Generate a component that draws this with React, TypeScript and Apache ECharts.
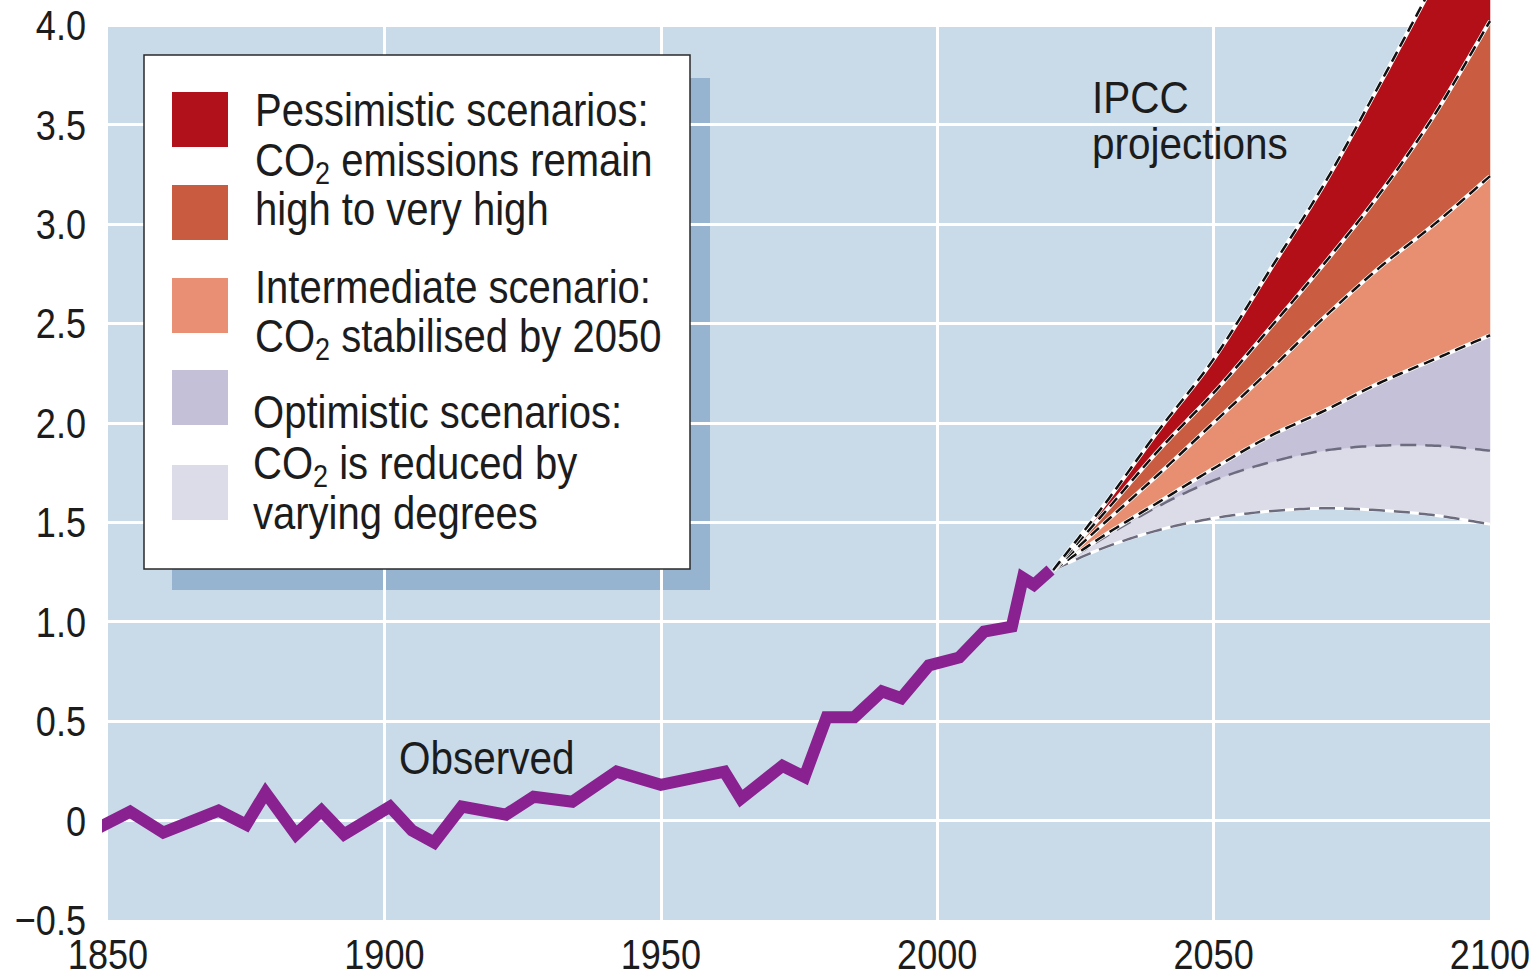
import React, { useEffect, useRef } from 'react';
import * as echarts from 'echarts';

// ---------- data ----------
const xTickValues = [1850, 1900, 1950, 2000, 2050, 2100];
const yTickValues = [-0.5, 0, 0.5, 1, 1.5, 2, 2.5, 3, 3.5, 4];

const observedYears = [
  1848, 1854, 1860, 1870, 1875, 1878.5, 1884, 1888.6, 1892.7, 1901, 1905, 1909,
  1914, 1922, 1927, 1934, 1942, 1950, 1961.5, 1964.5, 1972, 1976, 1980, 1985,
  1990, 1993.5, 1998.5, 2004, 2008.5, 2013.5, 2015.5, 2017.5, 2020.5,
];
const observedTemps = [
  -0.04, 0.045, -0.06, 0.05, -0.02, 0.14, -0.07, 0.05, -0.07, 0.07, -0.05, -0.11,
  0.07, 0.03, 0.12, 0.095, 0.246, 0.18, 0.246, 0.11, 0.275, 0.22, 0.52, 0.52,
  0.65, 0.615, 0.78, 0.82, 0.95, 0.975, 1.22, 1.185, 1.26,
];

const projectionYears = [2021, 2030, 2040, 2050, 2060, 2070, 2080, 2090, 2100];
// scenario band boundaries, lowest to highest
const optimisticLow = [1.26, 1.37, 1.46, 1.52, 1.555, 1.57, 1.56, 1.535, 1.49];
const optimisticMid = [1.26, 1.42, 1.58, 1.71, 1.8, 1.86, 1.885, 1.885, 1.86];
const optimisticHigh = [1.26, 1.43, 1.6, 1.77, 1.93, 2.06, 2.2, 2.32, 2.44];
const intermediateHigh = [1.26, 1.49, 1.74, 2.0, 2.26, 2.53, 2.78, 3.0, 3.24];
const pessimisticMid = [1.26, 1.54, 1.86, 2.15, 2.47, 2.8, 3.15, 3.55, 4.02];
const pessimisticHigh = [1.26, 1.58, 1.96, 2.32, 2.76, 3.2, 3.7, 4.22, 4.74];

const bandColors = ['#dcdbe8', '#c4c1d9', '#e88f71', '#c95c41', '#b20f18'];
const legendColors = ['#b0111a', '#c95b40', '#e98f73', '#c3c0d8', '#dcdbe8'];

const FONT = "'Liberation Sans', Arial, sans-serif";
const INK = '#1c1c1c';

const boundaries = [
  optimisticLow,
  optimisticMid,
  optimisticHigh,
  intermediateHigh,
  pessimisticMid,
  pessimisticHigh,
];

// Catmull-Rom spline through pixel points (drawing only)
function spline(pts: number[][], steps = 16): number[][] {
  const out: number[][] = [];
  const n = pts.length;
  for (let i = 0; i < n - 1; i++) {
    const p0 = pts[Math.max(i - 1, 0)];
    const p1 = pts[i];
    const p2 = pts[i + 1];
    const p3 = pts[Math.min(i + 2, n - 1)];
    for (let s = 0; s < steps; s++) {
      const t = s / steps;
      const t2 = t * t;
      const t3 = t2 * t;
      const c = (a: number, b: number, cc: number, d: number) =>
        0.5 * (2 * b + (-a + cc) * t + (2 * a - 5 * b + 4 * cc - d) * t2 + (-a + 3 * b - 3 * cc + d) * t3);
      out.push([c(p0[0], p1[0], p2[0], p3[0]), c(p0[1], p1[1], p2[1], p3[1])]);
    }
  }
  out.push(pts[n - 1]);
  return out;
}

export default function App() {
  const ref = useRef<HTMLDivElement>(null);

  useEffect(() => {
    if (!ref.current) return;
    const chart = echarts.init(ref.current, null, { renderer: 'svg' });

    const coordsOf = (api: any, vals: number[]) =>
      projectionYears.map((yr, i) => api.coord([yr, vals[i]]));

    const startItem = [projectionYears[0], optimisticLow[0]];

    const series: any[] = [
      {
        type: 'custom',
        name: 'bands',
        coordinateSystem: 'cartesian2d',
        data: bandColors.map(() => startItem),
        z: 3,
        silent: true,
        clip: false,
        renderItem: (params: any, api: any) => {
          const k = params.dataIndex;
          const lo = spline(coordsOf(api, boundaries[k]));
          const up = spline(coordsOf(api, boundaries[k + 1]));
          const points = up.concat(lo.slice().reverse());
          return {
            type: 'polygon',
            shape: { points },
            style: { fill: bandColors[k], stroke: bandColors[k], lineWidth: 0.5 },
          };
        },
      },
      {
        type: 'custom',
        name: 'boundaries',
        coordinateSystem: 'cartesian2d',
        data: boundaries.map(() => startItem),
        z: 4,
        silent: true,
        clip: false,
        renderItem: (params: any, api: any) => {
          const k = params.dataIndex;
          const pts = spline(coordsOf(api, boundaries[k]));
          const grey = k <= 1;
          const children: any[] = [];
          if (k !== 1) {
            children.push({
              type: 'polyline',
              shape: { points: pts },
              style: { stroke: '#ffffff', lineWidth: grey ? 3 : 4, fill: null },
            });
          }
          children.push({
            type: 'polyline',
            shape: { points: pts },
            style: {
              stroke: grey ? '#6c6c7e' : '#111111',
              lineWidth: 2.5,
              lineDash: grey ? [16, 9] : [11, 6],
              fill: null,
            },
          });
          return { type: 'group', children };
        },
      },
      {
        type: 'line',
        name: 'Observed',
        data: observedYears.map((y, i) => [y, observedTemps[i]]),
        showSymbol: false,
        lineStyle: { color: '#8a2190', width: 12, join: 'miter', miterLimit: 3, cap: 'butt' },
        clip: false,
        z: 6,
        silent: true,
      },
    ];

    chart.setOption({
      animation: false,
      grid: {
        left: 108,
        right: 42,
        top: 25,
        bottom: 57,
        show: true,
        backgroundColor: '#c9dbe9',
        borderWidth: 0,
        z: 0,
      },
      xAxis: {
        type: 'value',
        min: xTickValues[0],
        max: xTickValues[xTickValues.length - 1],
        interval: xTickValues[1] - xTickValues[0],
        z: 2,
        axisLine: { show: false },
        axisTick: { show: false },
        axisLabel: { show: false },
        splitLine: {
          show: true,
          showMinLine: false,
          showMaxLine: false,
          lineStyle: { color: '#ffffff', width: 3 },
        },
      },
      yAxis: {
        type: 'value',
        min: yTickValues[0],
        max: yTickValues[yTickValues.length - 1],
        interval: yTickValues[1] - yTickValues[0],
        z: 2,
        axisLine: { show: false },
        axisTick: { show: false },
        axisLabel: { show: false },
        splitLine: {
          show: true,
          showMinLine: false,
          lineStyle: { color: '#ffffff', width: 3 },
        },
      },
      series,
    });

    // ---- texts and legend (tick positions from the chart's own scales) ----
    const xPix = (v: number) => chart.convertToPixel({ xAxisIndex: 0 }, v) as number;
    const yPix = (v: number) => chart.convertToPixel({ yAxisIndex: 0 }, v) as number;

    const axisText = (text: string, x: number, y: number, align: string) => ({
      type: 'text',
      x,
      y,
      scaleX: 0.84,
      z: 12,
      silent: true,
      style: {
        text,
        fontFamily: FONT,
        fontSize: 43,
        lineHeight: 40,
        fill: INK,
        align,
        verticalAlign: 'middle',
      },
    });

    const yLabel = (v: number) =>
      Math.abs(v) < 1e-9 ? '0' : (v < 0 ? '\u2212' : '') + Math.abs(v).toFixed(1);

    const bottomY = yPix(yTickValues[0]);
    const leftX = xPix(xTickValues[0]);

    const legendText = (text: string, x: number, y: number) => ({
      type: 'text',
      x,
      y,
      scaleX: 0.87,
      z: 12,
      silent: true,
      style: {
        text,
        fontFamily: FONT,
        fontSize: 46,
        lineHeight: 58,
        fill: INK,
        align: 'left',
        verticalAlign: 'middle',
        rich: {
          sub: {
            fontFamily: FONT,
            fontSize: 31,
            lineHeight: 31,
            verticalAlign: 'bottom',
            fill: INK,
          },
        },
      },
    });

    const swatchYs = [92, 185, 278, 370, 465];

    const graphic: any[] = [
      {
        type: 'rect',
        z: 1,
        silent: true,
        shape: { x: 172, y: 78, width: 538, height: 512 },
        style: { fill: '#96b4d0' },
      },
      {
        type: 'rect',
        z: 11,
        silent: true,
        shape: { x: 144, y: 55, width: 546, height: 514 },
        style: { fill: '#ffffff', stroke: '#2a2a2a', lineWidth: 1.5 },
      },
      ...swatchYs.map((y, i) => ({
        type: 'rect',
        z: 12,
        silent: true,
        shape: { x: 172, y, width: 56, height: 55 },
        style: { fill: legendColors[i] },
      })),
      legendText('Pessimistic scenarios:', 255, 110),
      legendText('CO{sub|2} emissions remain', 255, 160),
      legendText('high to very high', 255, 209),
      legendText('Intermediate scenario:', 255, 287),
      legendText('CO{sub|2} stabilised by 2050', 255, 336),
      legendText('Optimistic scenarios:', 253, 412),
      legendText('CO{sub|2} is reduced by', 253, 463),
      legendText('varying degrees', 253, 513),
      {
        type: 'text',
        x: 1092,
        y: 120,
        scaleX: 0.9,
        z: 12,
        silent: true,
        style: {
          text: 'IPCC\nprojections',
          fontFamily: FONT,
          fontSize: 45,
          lineHeight: 46,
          fill: INK,
          align: 'left',
          verticalAlign: 'middle',
        },
      },
      {
        type: 'text',
        x: 399,
        y: 758,
        scaleX: 0.88,
        z: 12,
        silent: true,
        style: {
          text: 'Observed',
          fontFamily: FONT,
          fontSize: 46,
          fill: INK,
          align: 'left',
          verticalAlign: 'middle',
        },
      },
      ...xTickValues.map((v) => axisText(String(v), xPix(v), bottomY + 34, 'center')),
      ...yTickValues.map((v) => axisText(yLabel(v), leftX - 22, yPix(v), 'right')),
    ];

    chart.setOption({ graphic: { elements: graphic } });

    return () => chart.dispose();
  }, []);

  return (
    <div
      ref={ref}
      style={{ position: 'fixed', left: 0, top: 0, width: 1532, height: 977, background: '#ffffff' }}
    />
  );
}
